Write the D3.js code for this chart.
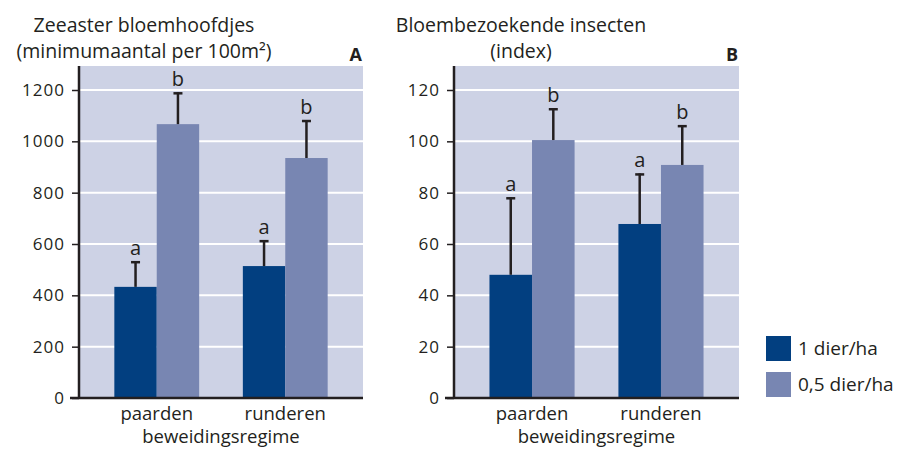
<!DOCTYPE html>
<html>
<head>
<meta charset="utf-8">
<script src="https://cdn.jsdelivr.net/npm/d3@7"></script>
<style>
  body { margin: 0; background: #fff; }
  text { font-family: "Open Sans", Lato, sans-serif; fill: #231f20; }
</style>
</head>
<body>
<script>
// data
const groups = ['paarden', 'runderen'];
const series = ['1 dier/ha', '0,5 dier/ha'];
const colors = ['#023f80', '#7886b2'];

// panel A: zeeaster bloemhoofdjes
const flowerMeans = [[433, 1067], [514, 935]];
const flowerErr = [[100, 124], [101, 148]];
const flowerLetters = [['a', 'b'], ['a', 'b']];
const flowerTicks = [0, 200, 400, 600, 800, 1000, 1200];

// panel B: bloembezoekende insecten
const insectMeans = [[48, 100.5], [67.8, 90.8]];
const insectErr = [[30.2, 12.4], [19.7, 15.5]];
const insectLetters = [['a', 'b'], ['a', 'b']];
const insectTicks = [0, 20, 40, 60, 80, 100, 120];

const W = 903, H = 450;
const ink = '#231f20';

let svg = d3.select('body').append('svg')
  .attr('width', W)
  .attr('height', H);

drawPanel({
  left: 79, right: 363, top: 66, bottom: 398,
  yMax: 1200, ticks: flowerTicks,
  means: flowerMeans, errs: flowerErr, letters: flowerLetters,
  title: ['Zeeaster bloemhoofdjes', '(minimumaantal per 100m²)'], titleX: 144,
  tag: 'A'
});

drawPanel({
  left: 454, right: 739, top: 66, bottom: 398,
  yMax: 120, ticks: insectTicks,
  means: insectMeans, errs: insectErr, letters: insectLetters,
  title: ['Bloembezoekende insecten', '(index)'], titleX: 521,
  tag: 'B'
});

drawLegend();

function drawPanel(p) {
  let g = svg.append('g');

  let y = d3.scaleLinear().domain([0, p.yMax]).range([p.bottom, 90]);
  let x = d3.scaleBand().domain(groups).range([p.left, p.right])
    .paddingInner(0.34).paddingOuter(0.275);
  let xs = d3.scaleBand().domain(series).range([0, x.bandwidth()]);

  // background
  g.append('rect')
    .attr('x', p.left).attr('y', p.top)
    .attr('width', p.right - p.left).attr('height', p.bottom - p.top)
    .attr('fill', '#cdd2e5');

  // white gridlines
  g.selectAll('.grid').data(p.ticks.slice(1)).enter()
    .append('line')
    .attr('x1', p.left).attr('x2', p.right)
    .attr('y1', d => y(d)).attr('y2', d => y(d))
    .attr('stroke', '#fff').attr('stroke-width', 2);

  // bars
  groups.forEach((grp, gi) => {
    let bg = g.append('g').attr('transform', `translate(${x(grp)},0)`);
    series.forEach((s, si) => {
      let v = p.means[gi][si];
      let top = y(v + p.errs[gi][si]);
      let cx = xs(s) + xs.bandwidth() / 2;
      bg.append('rect')
        .attr('x', xs(s)).attr('y', y(v))
        .attr('width', xs.bandwidth()).attr('height', y(0) - y(v))
        .attr('fill', colors[si]);
      // error bar
      bg.append('line')
        .attr('x1', cx).attr('x2', cx)
        .attr('y1', y(v)).attr('y2', top)
        .attr('stroke', ink).attr('stroke-width', 2.5);
      bg.append('line')
        .attr('x1', cx - 4.5).attr('x2', cx + 4.5)
        .attr('y1', top + 1).attr('y2', top + 1)
        .attr('stroke', ink).attr('stroke-width', 2.5);
      bg.append('text')
        .attr('x', cx).attr('y', top - 6)
        .attr('text-anchor', 'middle')
        .style('font-size', '20px')
        .text(p.letters[gi][si]);
    });
  });

  // y axis
  let yAxis = d3.axisLeft(y).tickValues(p.ticks).tickFormat(d3.format('d'))
    .tickSize(7).tickPadding(7);
  let ya = g.append('g').attr('transform', `translate(${p.left},0)`).call(yAxis);
  ya.select('.domain').remove();
  ya.selectAll('.tick line').attr('stroke', ink).attr('stroke-width', 1.5);
  ya.selectAll('.tick text').style('font-size', '17px').attr('fill', ink)
    .style('letter-spacing', '1px')
    .style('font-family', '"Open Sans", Lato, sans-serif');

  g.append('line')
    .attr('x1', p.left).attr('x2', p.left)
    .attr('y1', p.top).attr('y2', p.bottom + 1)
    .attr('stroke', ink).attr('stroke-width', 2.5);
  g.append('line')
    .attr('x1', p.left - 9).attr('x2', p.right)
    .attr('y1', p.bottom).attr('y2', p.bottom)
    .attr('stroke', ink).attr('stroke-width', 2.5);

  // x labels
  g.selectAll('.xl').data(groups).enter()
    .append('text')
    .attr('x', d => x(d) + x.bandwidth() / 2)
    .attr('y', 420)
    .attr('text-anchor', 'middle')
    .style('font-size', '18.5px')
    .text(d => d);
  g.append('text')
    .attr('x', (p.left + p.right) / 2).attr('y', 443)
    .attr('text-anchor', 'middle')
    .style('font-size', '18.5px')
    .text('beweidingsregime');

  // title
  p.title.forEach((t, i) => {
    g.append('text')
      .attr('x', p.titleX).attr('y', 32 + i * 26)
      .attr('text-anchor', 'middle')
      .style('font-size', '19.5px')
      .text(t);
  });
  g.append('text')
    .attr('x', p.right - 1).attr('y', 61)
    .attr('text-anchor', 'end')
    .style('font-size', '18px').style('font-weight', 'bold')
    .text(p.tag);
}

function drawLegend() {
  let lg = svg.append('g').attr('transform', 'translate(766,336)');
  let items = lg.selectAll('.item').data(series).enter()
    .append('g')
    .attr('transform', (d, i) => `translate(0,${i * 36})`);
  items.append('rect')
    .attr('width', 25).attr('height', 25)
    .attr('fill', (d, i) => colors[i]);
  items.append('text')
    .attr('x', 32).attr('y', 19)
    .style('font-size', '19px')
    .text(d => d);
}
</script>
</body>
</html>
